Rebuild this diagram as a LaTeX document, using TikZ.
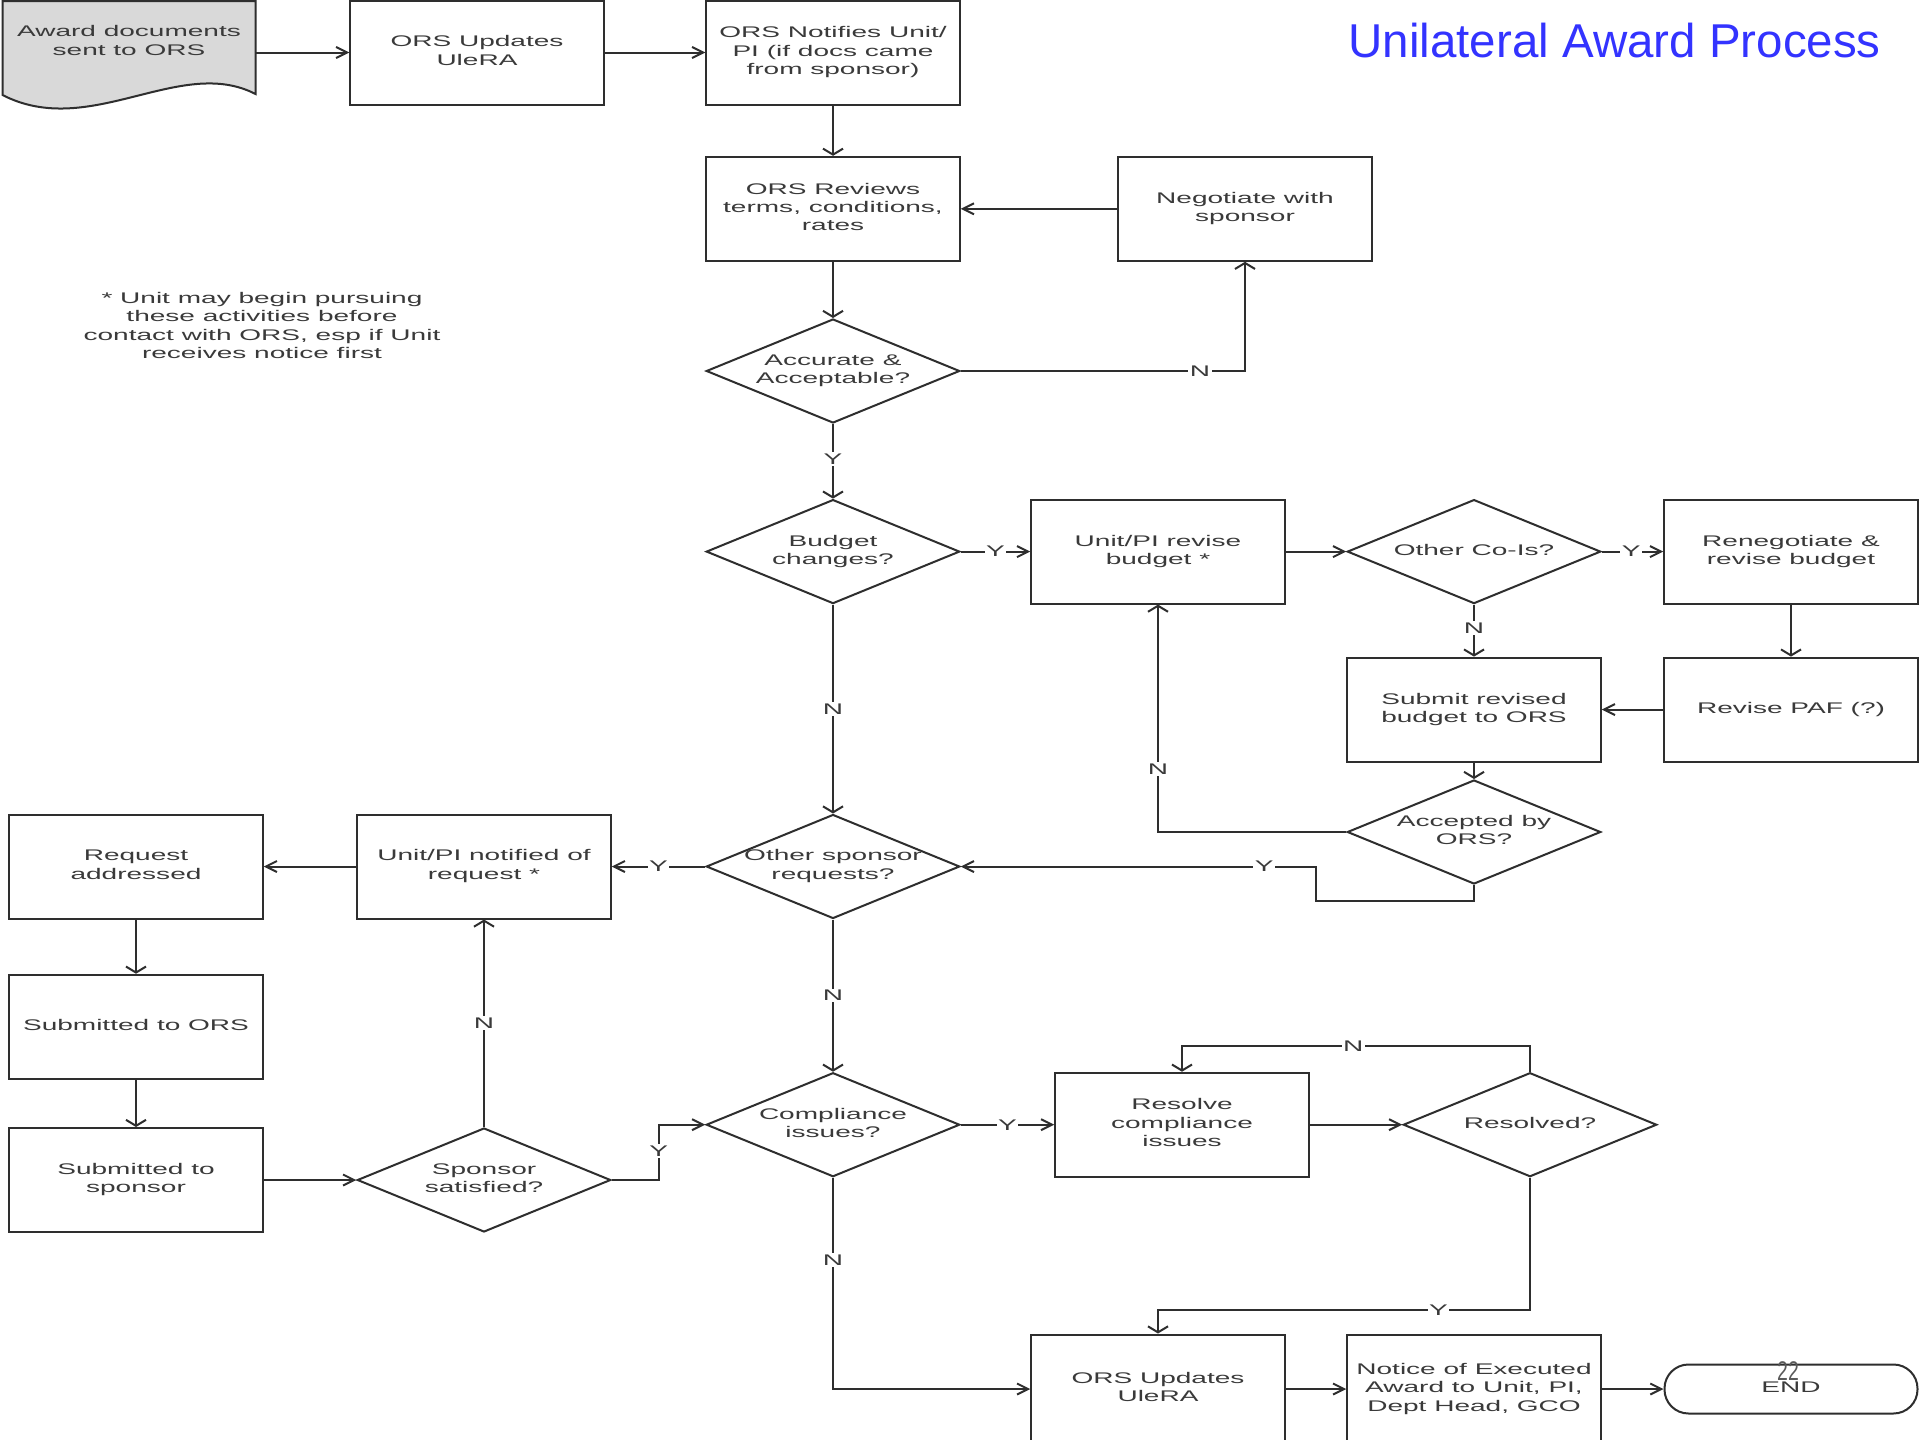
\documentclass[tikz,border=0pt]{standalone}
\usepackage{fontspec}
\setmainfont{Liberation Sans}
\usepackage{graphicx}
\usetikzlibrary{shapes.geometric, arrows.meta}

\definecolor{ink}{HTML}{2E2E2E}
\definecolor{txt}{HTML}{3A3A3A}
\definecolor{docfill}{HTML}{D9D9D9}
\definecolor{titleblue}{HTML}{3333FF}
\definecolor{pagegray}{HTML}{5A5A5A}

% the flowchart text is set wide
\newcommand{\wtxt}[1]{\makebox[0pt]{\scalebox{1.82}[1]{\begin{tabular}{@{}c@{}}#1\end{tabular}}}}
\newcommand{\wlab}[1]{\scalebox{1.82}[1]{#1}}

\tikzset{
  every node/.style={font=\fontsize{15.4}{18.4}\selectfont, text=txt},
  line/.style={draw=ink, line width=2pt},
  procbox/.style={line, fill=white, rectangle, minimum width=253.5pt, minimum height=104pt, inner sep=0pt},
  lowbox/.style={procbox, minimum height=109pt},
  decision/.style={line, fill=white, diamond, minimum width=253.5pt, minimum height=104pt, inner sep=0pt},
  terminal/.style={line, fill=white, rectangle, rounded corners=24pt, minimum width=253pt, minimum height=49pt, inner sep=0pt},
  harr/.style={line, -{Straight Barb[length=11pt, width=11pt]}},
  varr/.style={line, -{Straight Barb[length=6pt, width=20pt]}},
  lbl/.style={fill=white, inner sep=1.5pt},
}

\begin{document}
\begin{tikzpicture}[x=1pt, y=-1pt]
\useasboundingbox (0,0) rectangle (1920,1440);
\clip (0,0) rectangle (1920,1440);
\fill[white] (0,0) rectangle (1920,1440);

% title
\node[anchor=base east, font=\fontsize{47.5}{57}\selectfont, text=titleblue, inner sep=0pt] (title) at (1881,57.5) {Unilateral Award Process};

% start document
\node[inner sep=0pt, minimum width=253pt, minimum height=105pt] (award) at (129,52.5) {};
\draw[line, fill=docfill] (2.5,1) -- (255.5,1) -- (255.5,94)
  .. controls (180,55) and (90,140) .. (2.5,95) -- cycle;
\node (awardtxt) at (129,42.5) {\wtxt{Award documents\\sent to ORS}};

% remark
\node (remark) at (262,327.5) {\wtxt{* Unit may begin pursuing\\these activities before\\contact with ORS, esp if Unit\\receives notice first}};

% process steps and decisions
\node[procbox] (upd1) at (477,52.5) {\wtxt{ORS Updates\\UleRA}};
\node[procbox] (notif) at (833,52.5) {\wtxt{ORS Notifies Unit/\\PI (if docs came\\from sponsor)}};
\node[procbox] (rev) at (833,208.8) {\wtxt{ORS Reviews\\terms, conditions,\\rates}};
\node[procbox] (neg) at (1245,208.8) {\wtxt{Negotiate with\\sponsor}};
\node[decision] (acc) at (833,371) {\wtxt{Accurate \&\\Acceptable?}};
\node[decision] (bud) at (833,551.6) {\wtxt{Budget\\changes?}};
\node[procbox] (upb) at (1158,551.6) {\wtxt{Unit/PI revise\\budget *}};
\node[decision] (coi) at (1474,551.6) {\wtxt{Other Co-Is?}};
\node[procbox] (ren) at (1791,551.6) {\wtxt{Renegotiate \&\\revise budget}};
\node[procbox] (sub) at (1474,709.6) {\wtxt{Submit revised\\budget to ORS}};
\node[procbox] (paf) at (1791,709.6) {\wtxt{Revise PAF (?)}};
\node[decision] (acp) at (1474,832) {\wtxt{Accepted by\\ORS?}};
\node[decision] (osr) at (833,866.5) {\wtxt{Other sponsor\\requests?}};
\node[procbox] (unp) at (484,866.5) {\wtxt{Unit/PI notified of\\request *}};
\node[procbox] (req) at (136,866.5) {\wtxt{Request\\addressed}};
\node[procbox] (sto) at (136,1026.7) {\wtxt{Submitted to ORS}};
\node[procbox] (sts) at (136,1180) {\wtxt{Submitted to\\sponsor}};
\node[decision] (sps) at (484,1180) {\wtxt{Sponsor\\satisfied?}};
\node[decision] (cmp) at (833,1124.7) {\wtxt{Compliance\\issues?}};
\node[procbox] (res) at (1182,1124.7) {\wtxt{Resolve\\compliance\\issues}};
\node[decision] (rsd) at (1530,1124.7) {\wtxt{Resolved?}};
\node[lowbox] (ors2) at (1158,1389) {\wtxt{ORS Updates\\UleRA}};
\node[lowbox] (notice) at (1474,1389) {\wtxt{Notice of Executed\\Award to Unit, PI,\\Dept Head, GCO}};
\node[terminal] (endn) at (1791,1389) {\wtxt{END}};
\node[text=pagegray, font=\fontsize{27}{27}\selectfont, inner sep=0pt] (pgnum) at (1788,1371) {\scalebox{0.72}[1]{22}};

% bend points
\coordinate (loopA) at (1316,901);
\coordinate (loopB) at (658.8,1124.7);

% connectors
\draw[harr] (award.east) -- (upd1.west);
\draw[harr] (upd1.east) -- (notif.west);
\draw[varr] (notif.south) -- (rev.north);
\draw[harr] (neg.west) -- (rev.east);
\draw[varr] (rev.south) -- (acc.north);
\draw[varr] (acc.east) -| node[lbl, pos=0.421] {\wlab{N}} (neg.south);
\draw[varr] (acc.south) -- node[lbl, pos=0.47] {\wlab{Y}} (bud.north);
\draw[harr] (bud.east) -- node[lbl] {\wlab{Y}} (upb.west);
\draw[harr] (upb.east) -- (coi.west);
\draw[harr] (coi.east) -- node[lbl, pos=0.48] {\wlab{Y}} (ren.west);
\draw[varr] (coi.south) -- node[lbl, pos=0.45] {\wlab{N}} (sub.north);
\draw[varr] (ren.south) -- (paf.north);
\draw[harr] (paf.west) -- (sub.east);
\draw[varr] (sub.south) -- (acp.north);
\draw[varr] (acp.west) -| node[lbl, pos=0.638] {\wlab{N}} (upb.south);
\draw[harr] (acp.south) |- (loopA) |- node[lbl, pos=0.573] {\wlab{Y}} (osr.east);
\draw[varr] (bud.south) -- node[lbl] {\wlab{N}} (osr.north);
\draw[harr] (osr.west) -- node[lbl] {\wlab{Y}} (unp.east);
\draw[harr] (unp.west) -- (req.east);
\draw[varr] (req.south) -- (sto.north);
\draw[varr] (sto.south) -- (sts.north);
\draw[harr] (sts.east) -- (sps.west);
\draw[varr] (sps.north) -- node[lbl] {\wlab{N}} (unp.south);
\draw[harr] (sps.east) -| node[lbl, pos=0.76] {\wlab{Y}} (loopB) -- (cmp.west);
\draw[varr] (osr.south) -- node[lbl] {\wlab{N}} (cmp.north);
\draw[harr] (cmp.east) -- node[lbl] {\wlab{Y}} (res.west);
\draw[harr] (res.east) -- (rsd.west);
\draw[varr] (rsd.north) -- ++(0,-25.7) -| node[lbl, pos=0.254] {\wlab{N}} (res.north);
\draw[varr] (rsd.south) -- ++(0,132.3) -| node[lbl, pos=0.123] {\wlab{Y}} (ors2.north);
\draw[harr] (cmp.south) |- node[lbl, pos=0.195] {\wlab{N}} (ors2.west);
\draw[harr] (ors2.east) -- (notice.west);
\draw[harr] (notice.east) -- (endn.west);
\end{tikzpicture}
\end{document}
